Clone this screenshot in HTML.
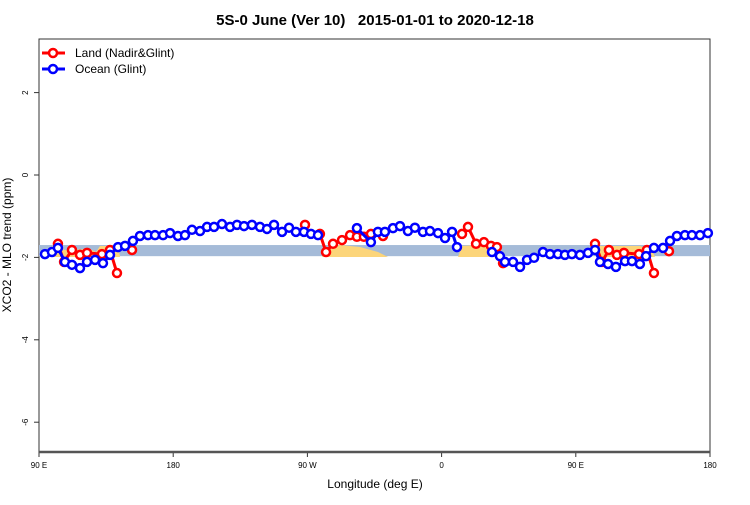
<!DOCTYPE html>
<html><head><meta charset="utf-8"><style>
body{margin:0;background:#fff}
svg{font-family:"Liberation Sans",sans-serif}
</style></head><body>
<svg id="c" width="750" height="500">
<text x="375" y="25" text-anchor="middle" font-size="15" font-weight="bold" style="white-space:pre">5S-0 June (Ver 10)   2015-01-01 to 2020-12-18</text>
<rect x="39" y="39" width="671" height="413" fill="none" stroke="#333" stroke-width="1"/>
<g id="band"></g>
<g id="land"></g>
<g id="series"></g>
<g id="axes"></g>
<line x1="39" y1="452" x2="710" y2="452" stroke="#555" stroke-width="2.5"/>
<text x="375" y="488" text-anchor="middle" font-size="12">Longitude (deg E)</text>
<text transform="translate(11,245) rotate(-90)" text-anchor="middle" font-size="12">XCO2 - MLO trend (ppm)</text>
<g>
<line x1="42" y1="53" x2="65" y2="53" stroke="red" stroke-width="3"/>
<circle cx="53" cy="53" r="4" fill="#fff" stroke="red" stroke-width="2.5"/>
<text x="75" y="57" font-size="12">Land (Nadir&amp;Glint)</text>
<line x1="42" y1="69" x2="65" y2="69" stroke="blue" stroke-width="3"/>
<circle cx="53" cy="69" r="4" fill="#fff" stroke="blue" stroke-width="2.5"/>
<text x="75" y="73" font-size="12">Ocean (Glint)</text>
</g>
</svg>
<script>
const xTicks=[90,180,270,360,450,540];
const xTickLabels=["90 E","180","90 W","0","90 E","180"];
const yTicks=[2,0,-2,-4,-6];
const bandRange=[-1.70,-1.97];
const oceanLon=[94.0,98.7,102.7,107.4,112.1,117.5,122.2,127.6,132.9,137.6,143.0,147.7,153.0,157.7,163.1,167.8,173.2,177.9,183.2,187.9,192.6,198.0,202.7,207.4,212.7,218.1,222.8,227.5,232.8,238.2,242.9,247.6,253.0,257.7,262.3,267.7,272.4,277.1,null,
303.2,312.6,317.3,322.0,327.4,332.1,337.4,342.1,347.5,352.2,357.6,362.3,367.0,370.3,null,
393.8,399.1,402.5,407.9,412.6,417.3,422.0,428.0,432.7,438.0,442.7,447.4,452.8,458.2,462.9,466.2,471.6,476.9,483.0,487.7,493.0,497.1,502.4,508.5,513.2,517.8,523.2,527.9,533.3,538.6];
const oceanVal=[-1.92,-1.87,-1.77,-2.11,-2.18,-2.26,-2.11,-2.06,-2.14,-1.94,-1.75,-1.72,-1.60,-1.48,-1.46,-1.46,-1.46,-1.41,-1.48,-1.46,-1.33,-1.36,-1.26,-1.26,-1.19,-1.26,-1.21,-1.24,-1.21,-1.26,-1.31,-1.21,-1.38,-1.28,-1.38,-1.38,-1.43,-1.46,null,
-1.29,-1.63,-1.38,-1.38,-1.29,-1.24,-1.36,-1.28,-1.38,-1.36,-1.41,-1.53,-1.38,-1.75,null,
-1.87,-1.97,-2.11,-2.11,-2.23,-2.06,-2.01,-1.87,-1.92,-1.92,-1.94,-1.92,-1.94,-1.89,-1.82,-2.11,-2.16,-2.23,-2.09,-2.09,-2.16,-1.97,-1.77,-1.77,-1.60,-1.48,-1.46,-1.46,-1.46,-1.41];
const landLon=[102.7,106.8,112.1,117.5,122.2,132.2,137.6,142.3,null,152.4,null,268.4,null,
278.4,282.5,287.2,293.2,298.6,303.2,307.9,312.6,320.7,null,
373.7,377.7,383.1,388.4,393.1,397.1,401.2,null,
462.9,467.6,472.2,477.6,482.3,492.4,497.7,502.4,null,512.5];
const landVal=[-1.67,-2.11,-1.82,-1.94,-1.89,-1.92,-1.82,-2.38,null,-1.82,null,-1.21,null,
-1.43,-1.87,-1.67,-1.58,-1.46,-1.50,-1.50,-1.43,-1.48,null,
-1.43,-1.26,-1.67,-1.63,-1.72,-1.75,-2.14,null,
-1.67,-2.11,-1.82,-1.94,-1.89,-1.92,-1.82,-2.38,null,-1.85];
const NS="http://www.w3.org/2000/svg";
const X0=39,X1=710,Y0=452;
function x(lon){return X0+(lon-90)/450*(X1-X0);}
function y(v){return 175-v*41.2;}
function mk(t,a,p){const e=document.createElementNS(NS,t);for(const k in a)e.setAttribute(k,a[k]);p.appendChild(e);return e;}
const band=document.getElementById('band');
const br=mk('rect',{x:X0,y:y(bandRange[0]),width:X1-X0,height:y(bandRange[1])-y(bandRange[0]),fill:'#a5bbd8'},band);


const land=document.getElementById('land');
const lp=[[322,257,326,249,340,245,360,247,378,252,388,257],[458,257,462,246,478,245,500,245,502,257],[50,257,52,246,60,246,64,250,90,249,96,252,100,246,118,246,120,257],[598,257,600,246,640,246,652,250,655,257]];
lp.forEach(function(p){
 const pts=[];for(let i=0;i<p.length;i+=2)pts.push(p[i]+','+p[i+1]);
 const e=mk('polygon',{points:pts.join(' '),fill:'#fcd57a'},land);
 
 
});
const ax=document.getElementById('axes');
xTicks.forEach(function(t,i){
 const l=mk('line',{x1:x(t),x2:x(t),y1:Y0,y2:Y0+5,stroke:'#333'},ax);
 
 
 const tx=mk('text',{x:x(t),y:468,'text-anchor':'middle','font-size':'8'},ax);
 tx.textContent=xTickLabels[i];
 
 
});
yTicks.forEach(function(t){
 const l=mk('line',{x1:X0-5,x2:X0,y1:y(t),y2:y(t),stroke:'#333'},ax);
 
 
 const tx=mk('text',{transform:'translate(28,'+y(t)+') rotate(-90)','text-anchor':'middle','font-size':'8'},ax);
 tx.textContent=String(t);
 
 
});
const S=document.getElementById('series');
function draw(lons,vals,col,name){
 const g=mk('g',{},S);
 
 
 let segs=[[]];
 for(let i=0;i<lons.length;i++){if(lons[i]===null||vals[i]===null){segs.push([]);}else segs[segs.length-1].push([x(lons[i]),y(vals[i])]);}
 segs.forEach(function(s){if(s.length>1){const pl=mk('polyline',{points:s.map(p=>p.join(',')).join(' '),fill:'none',stroke:col,'stroke-width':3},g);
  
  }});
 segs.forEach(function(s){s.forEach(function(p){const c=mk('circle',{cx:p[0],cy:p[1],r:4,fill:'#fff',stroke:col,'stroke-width':2.5},g);
  
  });});
}
draw(landLon,landVal,'red','land');
draw(oceanLon,oceanVal,'blue','ocean');
</script>
</body></html>
